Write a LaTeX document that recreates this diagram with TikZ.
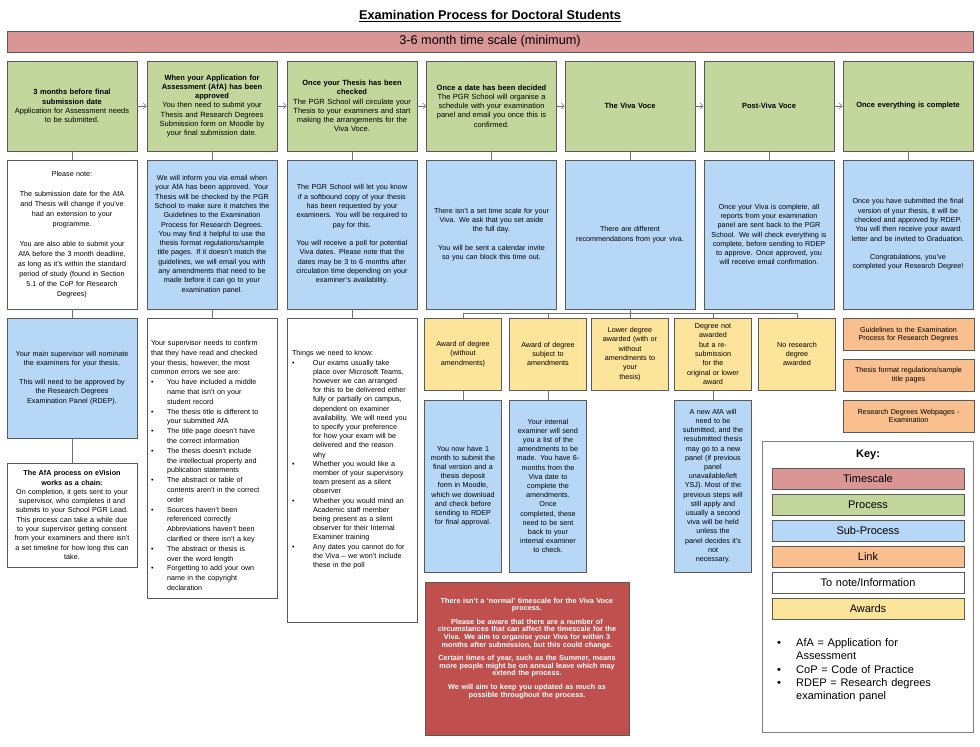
\documentclass[tikz,border=0pt]{standalone}
\usepackage{fontspec}
\setmainfont{Liberation Sans}
\usepackage{tikz}
\usetikzlibrary{arrows.meta}
\definecolor{scalered}{HTML}{D99694}
\definecolor{procgreen}{HTML}{C3D69B}
\definecolor{subblue}{HTML}{B7D7F7}
\definecolor{linkorange}{HTML}{F9BF8F}
\definecolor{awardyellow}{HTML}{FDE49B}
\definecolor{warnred}{HTML}{C0504D}
\definecolor{edgegray}{HTML}{5A5A5A}
\definecolor{linegray}{HTML}{707070}

% bullet line with hanging indent
\newcommand{\bitem}[1]{\par\hangindent=#1\hangafter=1\noindent\makebox[#1][l]{\textbullet}}

\begin{document}
\begin{tikzpicture}[x=1pt,y=-1pt,>={Straight Barb[length=3pt,width=6pt]},font=\fontsize{7.2}{9.3}\selectfont]

\tikzset{
basebox/.style={
    draw=edgegray,
    line width=0.8pt,
    inner xsep=3pt,
    inner ysep=0pt,
    align=center
},
widecol/.style={text width=124pt},
narrowcol/.style={text width=71pt},
procbox/.style={basebox,widecol,fill=procgreen,minimum height=90pt,font=\fontsize{7.5}{9.3}\selectfont},
subbox/.style={basebox,fill=subblue},
notebox/.style={basebox,fill=white},
awardbox/.style={basebox,narrowcol,fill=awardyellow,minimum height=72pt},
linkbox/.style={basebox,text width=125pt,fill=linkorange,minimum height=32pt,font=\fontsize{7.2}{8.7}\selectfont},
keyitem/.style={basebox,text width=186pt,minimum height=21pt,font=\fontsize{11}{13}\selectfont},
warnbox/.style={basebox,text width=198pt,fill=warnred,text=white,minimum height=153pt,font=\bfseries\fontsize{7.3}{7.6}\selectfont},
conn/.style={draw=linegray,line width=0.6pt},
flow/.style={conn,->}
}

\useasboundingbox (0,0) rectangle (980,747);

\node (title) at (490,16) {\bfseries\fontsize{12.7}{15}\selectfont\underline{Examination Process for Doctoral Students}};
\node[basebox,fill=scalered,minimum width=966pt,minimum height=21pt,font=\fontsize{12.7}{15}\selectfont] (scale) at (490,41.5) {3-6 month time scale (minimum)};

% process row
\node[procbox] (h1) at (72,106) {\textbf{3 months before final}\\\textbf{submission date}\\Application for Assessment needs\\to be submitted.};
\node[procbox] (h2) at (212,106) {\textbf{When your Application for}\\\textbf{Assessment (AfA) has been}\\\textbf{approved}\\You then need to submit your\\Thesis and Research Degrees\\Submission form on Moodle by\\your final submission date.};
\node[procbox] (h3) at (352,106) {\textbf{Once your Thesis has been}\\\textbf{checked}\\The PGR School will circulate your\\Thesis to your examiners and start\\making the arrangements for the\\Viva Voce.};
\node[procbox] (h4) at (491.5,106) {\textbf{Once a date has been decided}\\The PGR School will organise a\\schedule with your examination\\panel and email you once this is\\confirmed.};
\node[procbox] (h5) at (630,106) {\textbf{The Viva Voce}};
\node[procbox] (h6) at (769,106) {\textbf{Post-Viva Voce}};
\node[procbox] (h7) at (908,106) {\textbf{Once everything is complete}};

% detail row
\node[notebox,widecol,minimum height=149pt,font=\fontsize{7.2}{10}\selectfont] (d1) at (72,234.5) {Please note:\\[10pt]The submission date for the AfA\\and Thesis will change if you've\\had an extension to your\\programme.\\[10pt]You are also able to submit your\\AfA before the 3 month deadline,\\as long as it's within the standard\\period of study (found in Section\\5.1 of the CoP for Research\\Degrees)};
\node[subbox,widecol,minimum height=149pt] (d2) at (212,234.5) {We will inform you via email when\\your AfA has been approved. Your\\Thesis will be checked by the PGR\\School to make sure it matches the\\Guidelines to the Examination\\Process for Research Degrees.\\You may find it helpful to use the\\thesis format regulations/sample\\title pages. If it doesn't match the\\guidelines, we will email you with\\any amendments that need to be\\made before it can go to your\\examination panel.};
\node[subbox,widecol,minimum height=149pt] (d3) at (352,234.5) {The PGR School will let you know\\if a softbound copy of your thesis\\has been requested by your\\examiners. You will be required to\\pay for this.\\[9.3pt]You will receive a poll for potential\\Viva dates. Please note that the\\dates may be 3 to 6 months after\\circulation time depending on your\\examiner's availability.};
\node[subbox,widecol,minimum height=149pt] (d4) at (491.5,234.5) {There isn't a set time scale for your\\Viva. We ask that you set aside\\the full day.\\[9.3pt]You will be sent a calendar invite\\so you can block this time out.};
\node[subbox,widecol,minimum height=149pt] (d5) at (630,234.5) {There are different\\recommendations from your viva.};
\node[subbox,widecol,minimum height=149pt] (d6) at (769,234.5) {Once your Viva is complete, all\\reports from your examination\\panel are sent back to the PGR\\School. We will check everything is\\complete, before sending to RDEP\\to approve. Once approved, you\\will receive email confirmation.};
\node[subbox,widecol,minimum height=149pt] (d7) at (908,234.5) {Once you have submitted the final\\version of your thesis, it will be\\checked and approved by RDEP.\\You will then receive your award\\letter and be invited to Graduation.\\[9.3pt]Congratulations, you've\\completed your Research Degree!};

% first three columns, lower boxes
\node[subbox,widecol,minimum height=120pt] (nominate) at (72,378) {Your main supervisor will nominate\\the examiners for your thesis.\\[9.3pt]This will need to be approved by\\the Research Degrees\\Examination Panel (RDEP).};
\node[notebox,widecol,minimum height=104pt] (chain) at (72,515) {\textbf{The AfA process on eVision}\\\textbf{works as a chain:}\\On completion, it gets sent to your\\supervisor, who completes it and\\submits to your School PGR Lead.\\This process can take a while due\\to your supervisor getting consent\\from your examiners and there isn't\\a set timeline for how long this can\\take.};
\node[notebox,text width=122pt,inner xsep=4pt,minimum height=280pt,align=left,font=\fontsize{7.2}{9.8}\selectfont] (errors) at (212,458) {\rule{0pt}{20pt}Your supervisor needs to confirm\newline that they have read and checked\newline your thesis, however, the most\newline common errors we see are:
\bitem{16pt}You have included a middle\newline name that isn't on your\newline student record
\bitem{16pt}The thesis title is different to\newline your submitted AfA
\bitem{16pt}The title page doesn't have\newline the correct information
\bitem{16pt}The thesis doesn't include\newline the intellectual property and\newline publication statements
\bitem{16pt}The abstract or table of\newline contents aren't in the correct\newline order
\bitem{16pt}Sources haven't been\newline referenced correctly\newline Abbreviations haven't been\newline clarified or there isn't a key
\bitem{16pt}The abstract or thesis is\newline over the word length
\bitem{16pt}Forgetting to add your own\newline name in the copyright\newline declaration\par};
\node[notebox,text width=120pt,inner xsep=5pt,minimum height=304pt,align=left,font=\fontsize{7.2}{9.2}\selectfont] (needs) at (352,470) {Things we need to know:
\bitem{21pt}Our exams usually take\newline place over Microsoft Teams,\newline however we can arranged\newline for this to be delivered either\newline fully or partially on campus,\newline dependent on examiner\newline availability. We will need you\newline to specify your preference\newline for how your exam will be\newline delivered and the reason\newline why
\bitem{21pt}Whether you would like a\newline member of your supervisory\newline team present as a silent\newline observer
\bitem{21pt}Whether you would mind an\newline Academic staff member\newline being present as a silent\newline observer for their Internal\newline Examiner training
\bitem{21pt}Any dates you cannot do for\newline the Viva -- we won't include\newline these in the poll\rule[-22pt]{0pt}{0pt}\par};

% awards
\node[awardbox] (aw1) at (463,354) {Award of degree\\(without\\amendments)};
\node[awardbox] (aw2) at (548,354) {Award of degree\\subject to\\amendments};
\node[awardbox] (aw3) at (630,354) {Lower degree\\awarded (with or\\without\\amendments to\\your\\thesis)};
\node[awardbox] (aw4) at (713,354) {Degree not\\awarded\\but a re-\\submission\\for the\\original or lower\\award};
\node[awardbox] (aw5) at (797,354) {No research\\degree\\awarded};

\node[subbox,narrowcol,minimum height=172pt,font=\fontsize{7.2}{9.2}\selectfont] (out1) at (463,486) {You now have 1\\month to submit the\\final version and a\\thesis deposit\\form in Moodle,\\which we download\\and check before\\sending to RDEP\\for final approval.};
\node[subbox,narrowcol,minimum height=172pt,font=\fontsize{7.2}{9.2}\selectfont] (out2) at (548,486) {Your internal\\examiner will send\\you a list of the\\amendments to be\\made. You have 6-\\months from the\\Viva date to\\complete the\\amendments.\\Once\\completed, these\\need to be sent\\back to your\\internal examiner\\to check.};
\node[subbox,narrowcol,minimum height=172pt,font=\fontsize{7.2}{9.2}\selectfont] (out4) at (713,486) {A new AfA will\\need to be\\submitted, and the\\resubmitted thesis\\may go to a new\\panel (if previous\\panel\\unavailable/left\\YSJ). Most of the\\previous steps will\\still apply and\\usually a second\\viva will be held\\unless the\\panel decides it's\\not\\necessary.};

\node[warnbox] (warn) at (527,658.5) {There isn't a `normal' timescale for the Viva Voce\\process.\\[6pt]Please be aware that there are a number of\\circumstances that can affect the timescale for the\\Viva. We aim to organise your Viva for within 3\\months after submission, but this could change.\\[6pt]Certain times of year, such as the Summer, means\\more people might be on annual leave which may\\extend the process.\\[6pt]We will aim to keep you updated as much as\\possible throughout the process.\rule[-22pt]{0pt}{0pt}};

% links
\node[linkbox] (link1) at (908.5,334.5) {Guidelines to the Examination\\Process for Research Degrees};
\node[linkbox] (link2) at (908.5,375) {Thesis format regulations/sample\\title pages};
\node[linkbox] (link3) at (908.5,416) {Research Degrees Webpages -\\Examination};

% key
\node[basebox,draw=gray,fill=white,minimum width=211pt,minimum height=291pt] (keybox) at (867.5,586.5) {};
\node[font=\bfseries\fontsize{11}{13}\selectfont] (keytitle) at (868,455) {Key:};
\node[keyitem,fill=scalered] (k1) at (868,478.5) {Timescale};
\node[keyitem,fill=procgreen] (k2) at (868,504.5) {Process};
\node[keyitem,fill=subblue] (k3) at (868,530.5) {Sub-Process};
\node[keyitem,fill=linkorange] (k4) at (868,556.5) {Link};
\node[keyitem,fill=white] (k5) at (868,583) {To note/Information};
\node[keyitem,fill=awardyellow] (k6) at (868,609) {Awards};
\node[align=left,text width=190pt,inner sep=0pt,anchor=north west,font=\fontsize{11}{13.3}\selectfont] (abbr) at (777,633) {\bitem{19pt}AfA = Application for\newline Assessment
\bitem{19pt}CoP = Code of Practice
\bitem{19pt}RDEP = Research degrees\newline examination panel\par};

% connectors
\draw[flow] (h1) -- (h2);
\draw[flow] (h2) -- (h3);
\draw[flow] (h3) -- (h4);
\draw[flow] (h4) -- (h5);
\draw[flow] (h5) -- (h6);
\draw[flow] (h6) -- (h7);

\foreach \i in {1,...,7}
  \draw[conn] (h\i) -- (d\i);

\draw[conn] (d1) -- (nominate);
\draw[conn] (nominate) -- (chain);
\draw[conn] (d2) -- (errors);
\draw[conn] (d3) -- (needs);

\coordinate (bus) at (630,313);
\draw[conn] (d5) -- (bus);
\draw[conn] (aw1) |- (bus);
\draw[conn] (aw2) |- (bus);
\draw[conn] (aw3) -- (bus);
\draw[conn] (aw4) |- (bus);
\draw[conn] (aw5) |- (bus);

\draw[conn] (aw1) -- (out1);
\draw[conn] (aw2) -- (out2);
\draw[conn] (aw4) -- (out4);

\end{tikzpicture}
\end{document}
